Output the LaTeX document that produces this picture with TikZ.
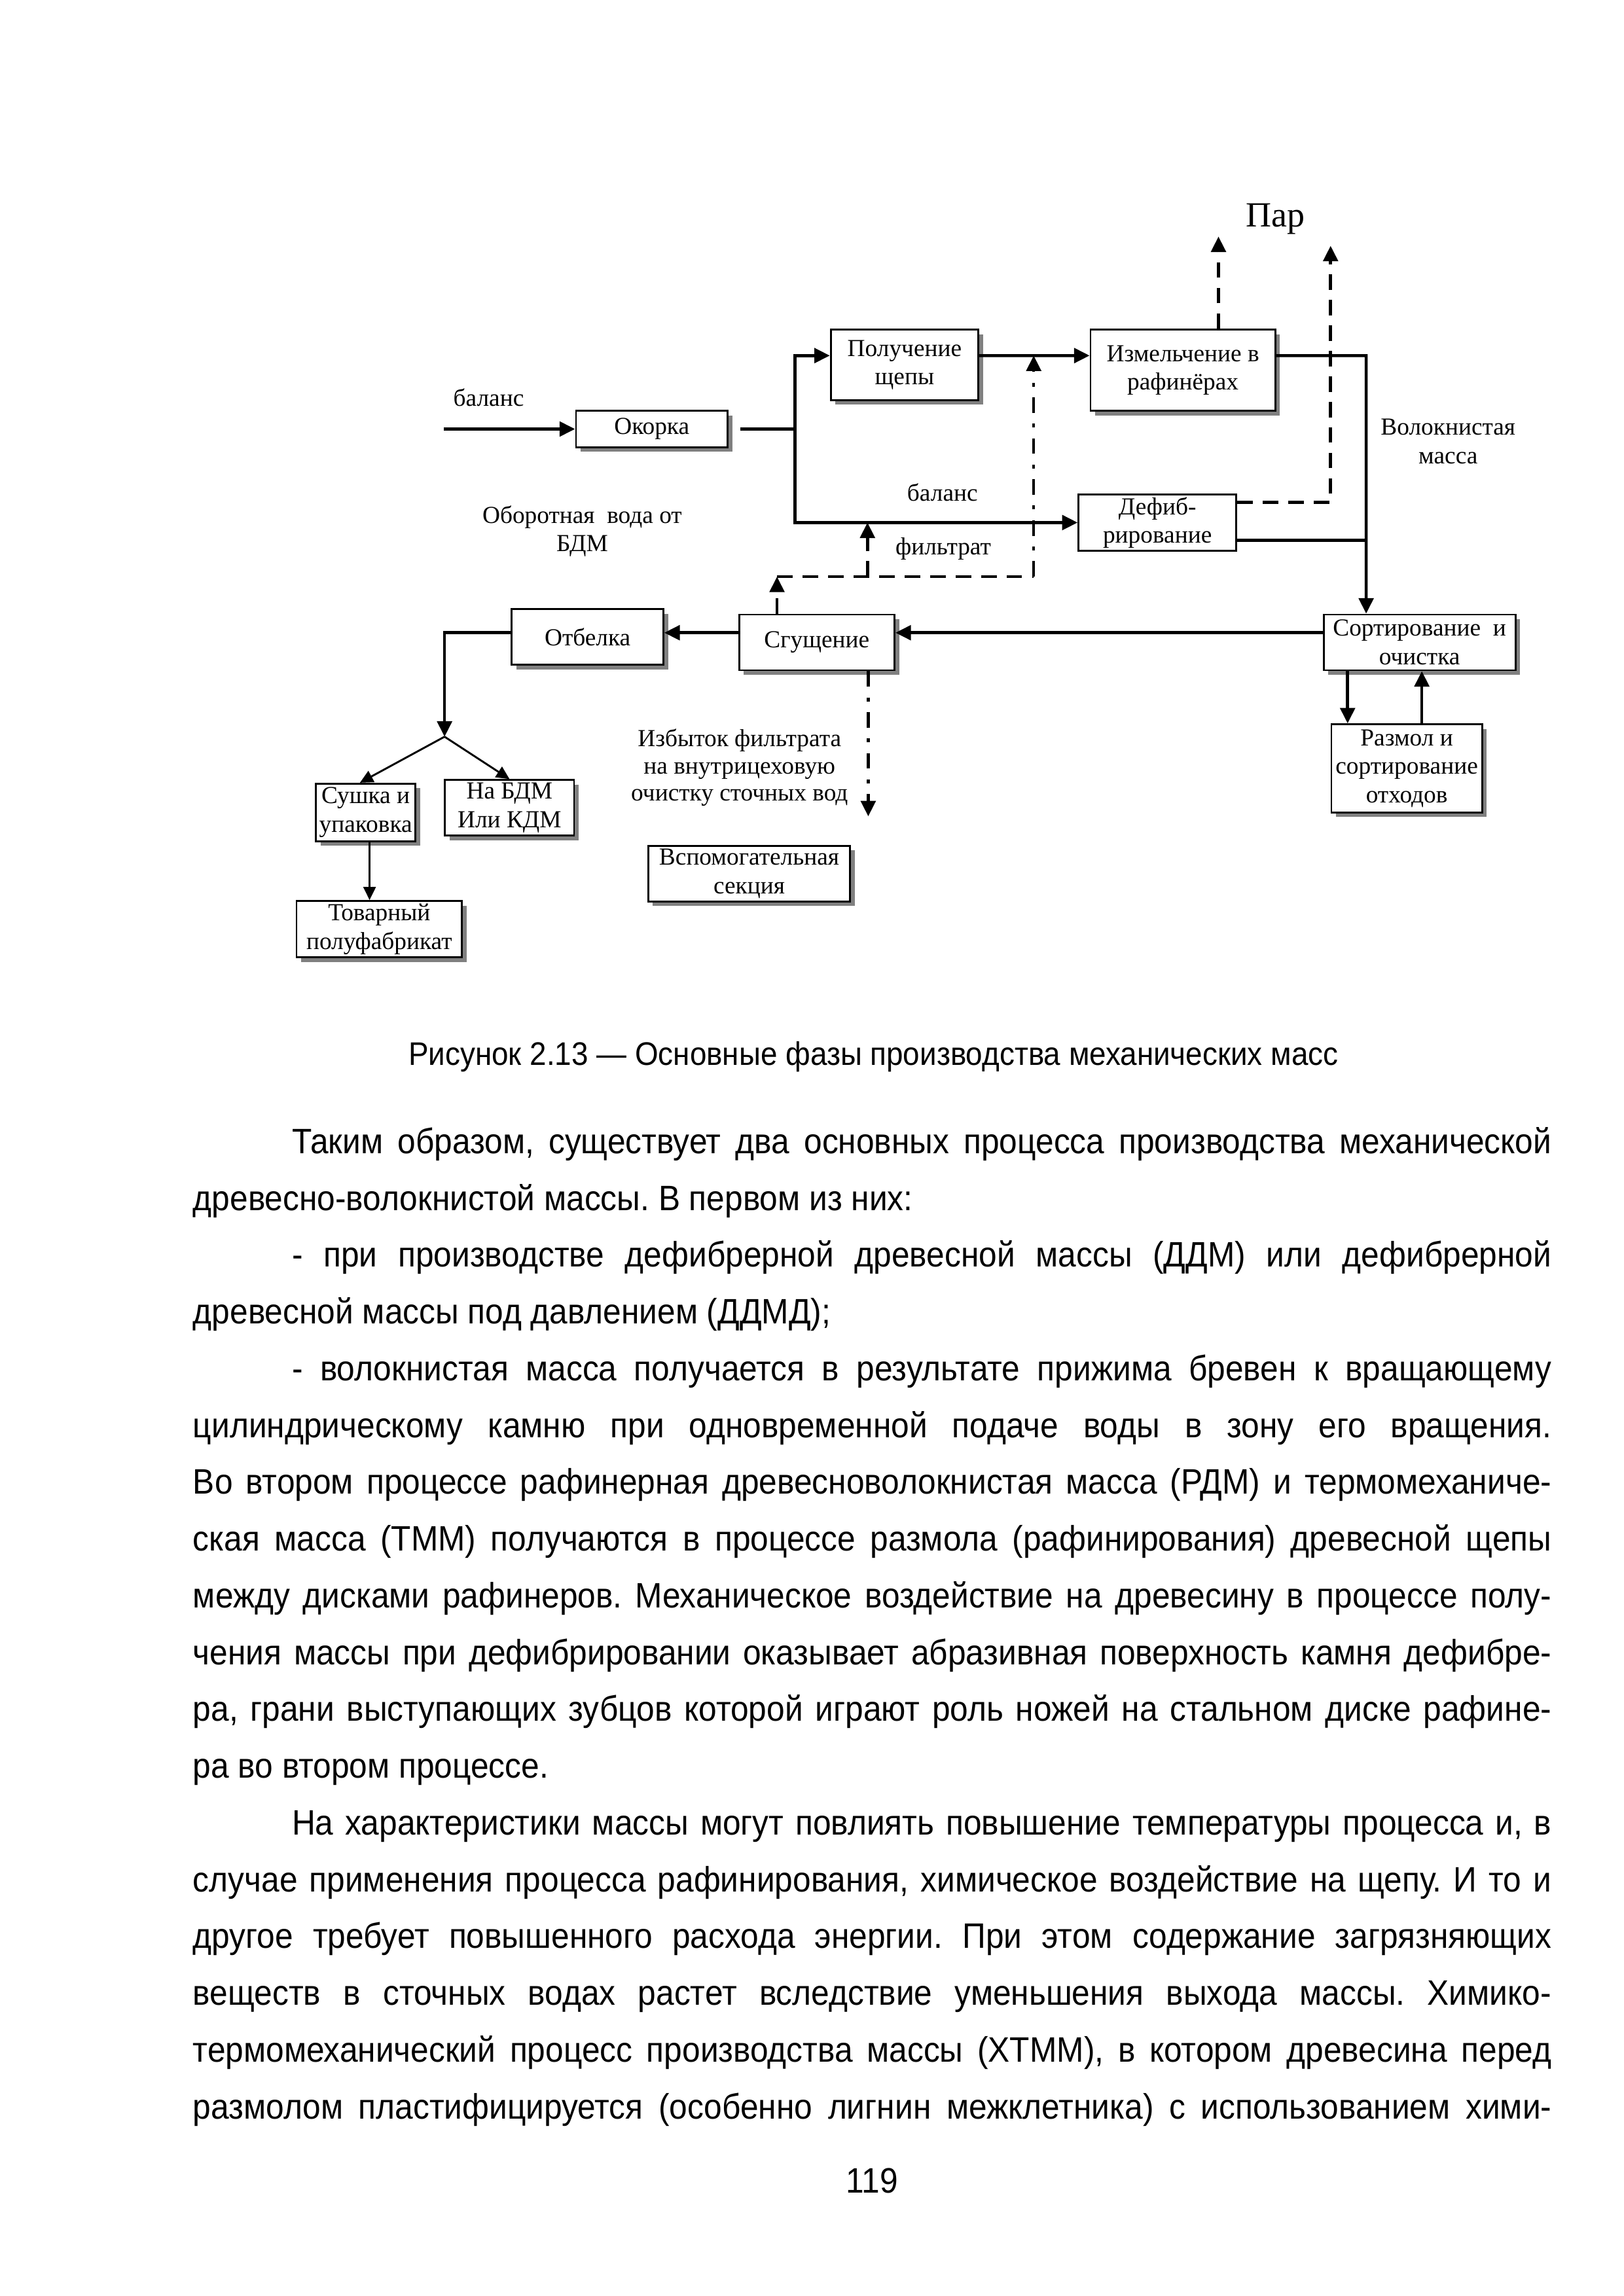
\documentclass[tikz,border=0pt]{standalone}
\usepackage{fontspec}
\setmainfont{Liberation Sans}[FakeStretch=0.92]
\newfontfamily\diagfont{Liberation Serif}
\usetikzlibrary{arrows.meta,shadows}
\frenchspacing

\tikzset{
  blk/.style={draw, line width=0.7pt, fill=white, align=center, inner sep=1pt,
    font=\diagfont\fontsize{9}{10.5}\selectfont},
  shd/.style={drop shadow={shadow xshift=0.06cm, shadow yshift=-0.06cm, fill=black!50, opacity=1}},
  lbl/.style={align=center, inner sep=1pt, font=\diagfont\fontsize{9}{10.5}\selectfont},
  flowln/.style={line width=1.1pt},
  thinln/.style={line width=0.7pt},
  dashln/.style={line width=1.1pt, dash pattern=on 0.2cm off 0.13cm},
  dashdotln/.style={line width=1.1pt, dash pattern=on 0.2cm off 0.14cm on 0.05cm off 0.14cm},
  arrowbig/.style={-{Triangle[length=0.2cm,width=0.19cm]}},
  arrowsm/.style={-{Triangle[length=0.17cm,width=0.16cm]}}
}

\newcommand{\fulline}[1]{\hbox to\linewidth{#1}}
\newcommand{\lastline}[1]{\hbox to\linewidth{#1\hfil}}

\begin{document}
\begin{tikzpicture}
\useasboundingbox (0,0) rectangle (21,29.7);

% boxes of the scheme
\node[blk,shd,minimum width=1.96cm,minimum height=0.47cm] (okorka) at (8.43,24.15) {Окорка};
\node[blk,shd,minimum width=1.91cm,minimum height=0.91cm] (poluch) at (11.70,24.98) {Получение\\щепы};
\node[blk,shd,minimum width=2.39cm,minimum height=1.05cm] (izmel) at (15.30,24.91) {Измельчение в\\рафинёрах};
\node[blk,minimum width=2.04cm,minimum height=0.70cm] (defib) at (14.97,22.94) {Дефиб-\\рирование};
\node[blk,shd,minimum width=2.48cm,minimum height=0.72cm] (sort) at (18.36,21.39) {Сортирование\ \ и\\очистка};
\node[blk,shd,minimum width=1.95cm,minimum height=1.14cm] (razmol) at (18.195,19.76) {Размол и\\сортирование\\отходов};
\node[blk,shd,minimum width=2.01cm,minimum height=0.72cm] (sgush) at (10.565,21.39) {Сгущение};
\node[blk,shd,minimum width=1.96cm,minimum height=0.72cm] (otbel) at (7.60,21.46) {Отбелка};
\node[blk,shd,minimum width=1.29cm,minimum height=0.745cm] (sushka) at (4.73,19.19) {Сушка и\\упаковка};
\node[blk,shd,minimum width=1.67cm,minimum height=0.72cm] (nabdm) at (6.59,19.25) {На БДМ\\Или КДМ};
\node[blk,shd,minimum width=2.14cm,minimum height=0.73cm] (tovar) at (4.905,17.68) {Товарный\\полуфабрикат};
\node[blk,shd,minimum width=2.61cm,minimum height=0.72cm] (vspom) at (9.69,18.40) {Вспомогательная\\секция};

% labels
\node[lbl] (balin) at (6.32,24.56) {баланс};
\node[lbl] (oborot) at (7.53,22.83) {Оборотная\ \ вода от\\БДМ};
\node[lbl] (balmid) at (12.19,23.33) {баланс};
\node[lbl] (filtlbl) at (12.20,22.60) {фильтрат};
\node[lbl,font=\diagfont\fontsize{13}{15}\selectfont] (par) at (16.50,26.87) {Пар};
\node[lbl] (volok) at (18.73,23.99) {Волокнистая\\масса};
\node[lbl,font=\diagfont\fontsize{9}{10}\selectfont] (izbyt) at (9.565,19.77) {Избыток фильтрата\\на внутрицеховую\\очистку сточных вод};

% turning points
\coordinate (in) at (5.74,24.15);
\coordinate (split) at (10.28,24.15);
\coordinate (merge) at (17.67,25.10);
\coordinate (fork) at (5.75,20.17);
\coordinate (filtL) at (10.05,22.24);
\coordinate (filtM) at (11.22,22.24);
\coordinate (filtR) at (13.37,22.24);
\coordinate (drain) at (11.23,19.14);
\coordinate (steamA) at (15.76,26.64);
\coordinate (steamB) at (17.21,26.52);
\coordinate (chipout) at ([yshift=0.12cm]poluch.east);
\coordinate (chipin) at ([yshift=0.19cm]izmel.west);
\coordinate (izmelout) at ([yshift=0.19cm]izmel.east);
\coordinate (defibout) at ([yshift=-0.23cm]defib.east);
\coordinate (defibsteam) at ([yshift=0.26cm]defib.east);
\coordinate (sortout) at ([yshift=0.125cm]sort.west);
\coordinate (sgushout) at ([yshift=0.125cm]sgush.west);
\coordinate (sortdown) at ([xshift=-0.93cm]sort.south);
\coordinate (razup) at ([xshift=0.195cm]razmol.north);
\coordinate (sushout) at ([xshift=0.05cm]sushka.south);

% main flow
\draw[flowln,arrowbig] (in) -- (okorka);
\draw[flowln,shorten <=0.15cm] (okorka) -- (split);
\draw[flowln,arrowbig] (split) |- ([yshift=0.12cm]poluch.west);
\draw[flowln,arrowbig] (split) |- (defib.west);
\draw[flowln,arrowbig] (chipout) -- (chipin);
\draw[flowln,arrowbig] (izmelout) -- (merge) -- (merge |- sort.north);
\draw[flowln] (defibout) -- (defibout -| merge);
\draw[flowln,arrowbig] (sortout) -- (sortout -| sgush.east);
\draw[flowln,arrowbig] (sgushout) -- (sgushout -| otbel.east);
\draw[flowln,arrowbig] (sgushout -| otbel.west) -| (fork);
\draw[thinln,arrowsm] (fork) -- ([xshift=-0.075cm]sushka.north);
\draw[thinln,arrowsm] (fork) -- (nabdm.north);
\draw[thinln,arrowsm] (sushout) -- (sushout |- tovar.north);
\draw[flowln,arrowbig] (sortdown) -- (sortdown |- razmol.north);
\draw[flowln,arrowbig] (razup) -- (razup |- sort.south);

% filtrate and steam
\draw[dashdotln,arrowbig] (drain |- sgush.south) -- (drain);
\draw[dashln,arrowbig] (filtL |- sgush.north) -- (filtL);
\draw[dashln] (filtL) -- (filtR);
\draw[dashln,arrowbig] (filtM) -- (filtM |- defib.west);
\draw[dashdotln,arrowbig] (filtR) -- (filtR |- chipin);
\draw[dashln,arrowbig] (steamA |- izmel.north) -- (steamA);
\draw[dashln,arrowbig] (defibsteam) -| (steamB);

% caption, text and page number
\node[anchor=base,font=\fontsize{12}{14}\selectfont] (caption) at (11.296,15.92) {Рисунок 2.13 — Основные фазы производства механических масс};
\node[anchor=base west,inner sep=0] (body) at (2.49,14.78) {\begin{minipage}[t]{17.57cm}\fontsize{13}{20.9}\selectfont
\fulline{\hskip1.28cm Таким образом, существует два основных процесса производства механической}
\lastline{древесно-волокнистой массы. В первом из них:}
\fulline{\hskip1.28cm - при производстве дефибрерной древесной массы (ДДМ) или дефибрерной}
\lastline{древесной массы под давлением (ДДМД);}
\fulline{\hskip1.28cm - волокнистая масса получается в результате прижима бревен к вращающему}
\fulline{цилиндрическому камню при одновременной подаче воды в зону его вращения.}
\fulline{Во втором процессе рафинерная древесноволокнистая масса (РДМ) и термомеханиче-}
\fulline{ская масса (ТММ) получаются в процессе размола (рафинирования) древесной щепы}
\fulline{между дисками рафинеров. Механическое воздействие на древесину в процессе полу-}
\fulline{чения массы при дефибрировании оказывает абразивная поверхность камня дефибре-}
\fulline{ра, грани выступающих зубцов которой играют роль ножей на стальном диске рафине-}
\lastline{ра во втором процессе.}
\fulline{\hskip1.28cm На характеристики массы могут повлиять повышение температуры процесса и, в}
\fulline{случае применения процесса рафинирования, химическое воздействие на щепу. И то и}
\fulline{другое требует повышенного расхода энергии. При этом содержание загрязняющих}
\fulline{веществ в сточных водах растет вследствие уменьшения выхода массы. Химико-}
\fulline{термомеханический процесс производства массы (ХТММ), в котором древесина перед}
\fulline{размолом пластифицируется (особенно лигнин межклетника) с использованием хими-}
\end{minipage}};
\node[anchor=base,font=\fontsize{13}{15}\selectfont] (pagenum) at (11.28,1.33) {119};
\end{tikzpicture}
\end{document}
